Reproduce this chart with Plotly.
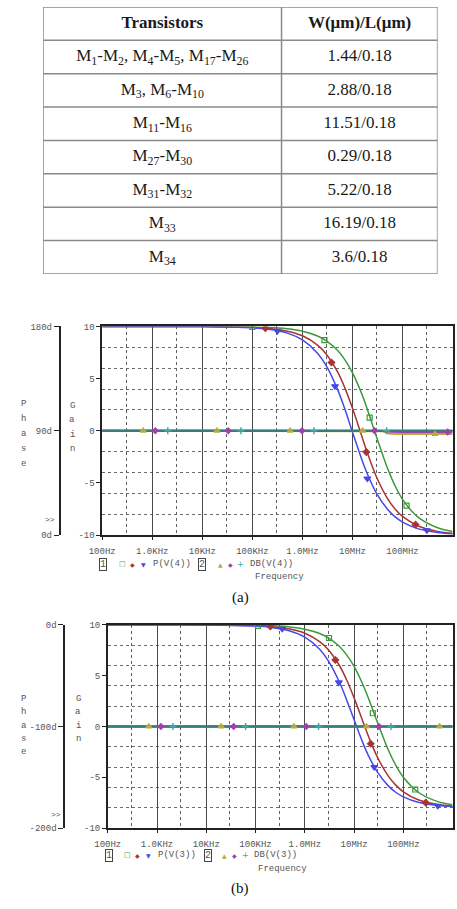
import plotly.graph_objects as go

W, H = 457, 909

# ---------------- data ----------------
TABLE_HEADER = ["<b>Transistors</b>", "<b>W(μm)/L(μm)</b>"]
TRANSISTORS = [
    "M<sub>1</sub>-M<sub>2</sub>, M<sub>4</sub>-M<sub>5</sub>, M<sub>17</sub>-M<sub>26</sub>",
    "M<sub>3</sub>, M<sub>6</sub>-M<sub>10</sub>",
    "M<sub>11</sub>-M<sub>16</sub>",
    "M<sub>27</sub>-M<sub>30</sub>",
    "M<sub>31</sub>-M<sub>32</sub>",
    "M<sub>33</sub>",
    "M<sub>34</sub>",
]
WL_RATIO = ["1.44/0.18", "2.88/0.18", "11.51/0.18", "0.29/0.18", "5.22/0.18", "16.19/0.18", "3.6/0.18"]

FREQ = [1e2, 1e3, 1e4, 1e5, 2e5, 5e5, 1e6, 2e6, 3e6, 5e6, 7e6, 1e7, 1.5e7, 2e7, 3e7, 5e7, 7e7, 1e8, 2e8, 5e8, 1e9]

# plot (a): phase P(V(4)) in degrees
PH_A_GREEN = [180, 180, 180, 179.6, 179.2, 177.9, 175.8, 171.7, 167.5, 159.4, 151.4, 140.0, 122.8, 107.9, 85.0, 57.6, 42.9, 30.8, 15.7, 6.3, 3.1]
PH_A_RED = [180, 180, 179.9, 179.2, 178.4, 175.9, 171.9, 163.9, 156.0, 141.0, 127.2, 109.3, 86.5, 70.4, 50.3, 31.5, 22.8, 16.1, 8.1, 3.2, 1.6]
PH_A_BLUE = [180, 180, 179.9, 178.8, 177.7, 174.2, 168.3, 156.9, 146.0, 125.9, 108.9, 88.8, 66.3, 52.2, 36.2, 22.2, 15.9, 11.2, 5.6, 2.2, 1.1]

# plot (b): phase P(V(3)) in degrees
PH_B_GREEN = [0, 0, 0, -0.4, -0.9, -2.1, -4.3, -8.5, -12.8, -21.1, -29.3, -40.9, -58.5, -73.5, -96.4, -123.6, -138.1, -150.0, -164.7, -173.9, -176.9]
PH_B_RED = [0, 0, -0.1, -0.8, -1.7, -4.2, -8.3, -16.5, -24.5, -39.8, -53.8, -71.9, -94.8, -110.8, -130.6, -149.1, -157.7, -164.3, -172.1, -176.8, -178.4]
PH_B_BLUE = [0, 0, -0.1, -1.2, -2.4, -6.1, -12.1, -24.0, -35.4, -56.0, -73.4, -93.5, -115.9, -129.7, -145.2, -158.7, -164.7, -169.3, -174.6, -177.8, -178.9]

# gain DB(V(4)) / DB(V(3))
GAIN_F_A = [1e2, 1e6, 1e7, 3e7, 4e7, 5.5e7, 1e8, 1e9]
GAIN_A_OLIVE = [0, 0, 0, 0, -0.05, -0.28, -0.3, -0.3]
GAIN_A_PURPLE = [0, 0, 0, 0, -0.02, -0.1, -0.12, -0.12]
GAIN_A_TEAL = [0, 0, 0, 0, 0, 0, 0, 0]
GAIN_F_B = [1e2, 1e9]
GAIN_B_OLIVE = [0, 0]
GAIN_B_PURPLE = [0, 0]
GAIN_B_TEAL = [0, 0]

# trace markers (frequency, value)
MK_A_GREEN = ([1e5, 2.75e6, 2.2e7, 1.2e8], [179.5, 168.2, 101.3, 25.5])
MK_A_RED = ([1.82e5, 3.8e6, 1.89e7, 1.82e8], [178.5, 148.9, 71.6, 9.0])
MK_A_BLUE = ([3.16e5, 4.47e6, 1.98e7, 3.06e8], [176.1, 128.4, 48.8, 4.1])
MK_A_OLIVE = ([660, 1.95e4, 5.66e5, 1.59e7, 4.45e8], [0, 0, 0, 0, -0.3])
MK_A_PURPLE = ([1.15e3, 3.3e4, 9.8e5, 2.75e7, 7.95e8], [0, 0, 0, 0, -0.12])
MK_A_TEAL = ([2.04e3, 5.9e4, 1.7e6, 4.8e7], [0, 0, 0, 0])

MK_B_GREEN = ([1.12e5, 3.1e6, 2.4e7, 1.74e8], [-1, -13, -87, -162])
MK_B_RED = ([2.0e5, 4.17e6, 2.18e7, 2.85e8], [-1.6, -34.6, -117, -175])
MK_B_BLUE = ([3.47e5, 4.9e6, 2.57e7, 5.0e8], [-4, -56.7, -140, -178])
MK_B_OLIVE = ([680, 2.0e4, 6.0e5, 1.78e7, 5.43e8], [0, 0, 0, 0, 0])
MK_B_PURPLE = ([1.2e3, 3.6e4, 1.07e6, 3.2e7], [0, 0, 0, 0])
MK_B_TEAL = ([2.1e3, 6.3e4, 1.9e6, 5.6e7], [0, 0, 0, 0])

X_TICKVALS = [1e2, 1e3, 1e4, 1e5, 1e6, 1e7, 1e8]
X_TICKTEXT = ["100Hz", "1.0KHz", "10KHz", "100KHz", "1.0MHz", "10MHz", "100MHz"]
X_MINOR = [3e2, 3e3, 3e4, 3e5, 3e6, 3e7, 3e8]
GAIN_TICKS = [-10, -5, 0, 5, 10]
GAIN_TICKTEXT = ["-10", "-5", "0", "5", "10"]
PH_A_TICKS = [0, 90, 180]
PH_A_TICKTEXT = ["0d", "90d", "180d"]
PH_B_TICKS = [-200, -100, 0]
PH_B_TICKTEXT = ["-200d", "-100d", "0d"]

NAME_A = ("P(V(4))", "DB(V(4))")
NAME_B = ("P(V(3))", "DB(V(3))")

# ---------------- style ----------------
GREEN, RED, BLUE = "#3a9a3a", "#a83434", "#4848e8"
OLIVE, PURPLE, TEAL = "#b4ac3c", "#a040b0", "#3a7c7e"
MONO = "Liberation Mono"
SERIF = "Liberation Serif"
TXT = "#555555"

# table layout (widths in table units, rows in row units)
TBL_COL_W = [246, 161]


def fx(p):
    return p / W


def fy(p):
    return 1 - p / H


fig = go.Figure()

# ---------------- table (drawn on a hidden axis pair) ----------------
n_rows = len(TRANSISTORS) + 1
tbl_w = sum(TBL_COL_W)
col_c = [TBL_COL_W[0] / 2, TBL_COL_W[0] + TBL_COL_W[1] / 2]
row_c = [i + 0.5 for i in range(n_rows)]
col0 = [TABLE_HEADER[0]] + TRANSISTORS
col1 = [TABLE_HEADER[1]] + WL_RATIO
for cx, vals in zip(col_c, (col0, col1)):
    fig.add_trace(go.Scatter(x=[cx] * n_rows, y=row_c, text=vals, mode="text",
                             textposition="middle center",
                             textfont=dict(family=SERIF, size=17, color="#1a1a1a"),
                             xaxis="x3", yaxis="y5", showlegend=False, hoverinfo="skip"))
shapes = []
for r in range(n_rows + 1):
    shapes.append(dict(type="line", xref="x3", yref="y5", x0=0, x1=tbl_w, y0=r, y1=r,
                       line=dict(color="#8a8a8a", width=1.5)))
for cxe in (0, TBL_COL_W[0], tbl_w):
    shapes.append(dict(type="line", xref="x3", yref="y5", x0=cxe, x1=cxe, y0=0, y1=n_rows,
                       line=dict(color="#8a8a8a", width=1.5)))


def add_panel(xa, ya_ph, ya_g, fr, ph_g, ph_r, ph_b, gf, g_o, g_p, g_t, mks):
    xk = "x" if xa == 1 else "x%d" % xa
    yp = "y" if ya_ph == 1 else "y%d" % ya_ph
    yg = "y%d" % ya_g
    for vals, col in ((ph_g, GREEN), (ph_r, RED), (ph_b, BLUE)):
        fig.add_trace(go.Scatter(x=fr, y=vals, mode="lines", line=dict(color=col, width=1.5, shape="spline"),
                                 xaxis=xk, yaxis=yp, showlegend=False, hoverinfo="skip"))
    (mg, mr, mb, mo, mp, mt) = mks
    for (mx, my), col, sym, sz in ((mg, GREEN, "square-open", 5), (mr, RED, "diamond", 5), (mb, BLUE, "triangle-down", 6)):
        fig.add_trace(go.Scatter(x=mx, y=my, mode="markers",
                                 marker=dict(color=col, symbol=sym, size=sz, line=dict(color=col, width=1.2)),
                                 xaxis=xk, yaxis=yp, showlegend=False, hoverinfo="skip"))
    for vals, col, w in ((g_o, OLIVE, 2), (g_p, PURPLE, 2), (g_t, TEAL, 2.5)):
        fig.add_trace(go.Scatter(x=gf, y=vals, mode="lines", line=dict(color=col, width=w),
                                 xaxis=xk, yaxis=yg, showlegend=False, hoverinfo="skip"))
    for (mx, my), col, sym, sz in ((mo, OLIVE, "triangle-up", 5), (mp, PURPLE, "diamond", 4), (mt, "#40a8a8", "cross-thin-open", 5)):
        fig.add_trace(go.Scatter(x=mx, y=my, mode="markers",
                                 marker=dict(color=col, symbol=sym, size=sz, line=dict(color=col, width=1.5)),
                                 xaxis=xk, yaxis=yg, showlegend=False, hoverinfo="skip"))


add_panel(1, 1, 2, FREQ, PH_A_GREEN, PH_A_RED, PH_A_BLUE, GAIN_F_A, GAIN_A_OLIVE, GAIN_A_PURPLE, GAIN_A_TEAL,
          (MK_A_GREEN, MK_A_RED, MK_A_BLUE, MK_A_OLIVE, MK_A_PURPLE, MK_A_TEAL))
add_panel(2, 3, 4, FREQ, PH_B_GREEN, PH_B_RED, PH_B_BLUE, GAIN_F_B, GAIN_B_OLIVE, GAIN_B_PURPLE, GAIN_B_TEAL,
          (MK_B_GREEN, MK_B_RED, MK_B_BLUE, MK_B_OLIVE, MK_B_PURPLE, MK_B_TEAL))

tickfont = dict(family=MONO, size=9, color=TXT)


def xaxis_cfg(x0, x1, anchor):
    return dict(type="log", range=[2, 9], domain=[fx(x0), fx(x1)], anchor=anchor,
                tickvals=X_TICKVALS, ticktext=X_TICKTEXT, ticks="outside", ticklen=3,
                tickcolor="#222", tickfont=tickfont, ticklabelstandoff=3,
                showline=True, linecolor="#222", linewidth=1.5, mirror=True,
                showgrid=True, gridcolor="#4a4a4a", gridwidth=1.3, zeroline=False,
                minor=dict(tickvals=X_MINOR, showgrid=True, gridcolor="#606060",
                           griddash="dot", gridwidth=1, ticks=""),
                fixedrange=True)


def phase_cfg(y0, y1, pos, rng, tv, tt):
    return dict(domain=[fy(y1), fy(y0)], anchor="free", position=fx(pos), range=rng,
                tickvals=tv, ticktext=tt, ticks="outside", ticklen=5, tickcolor="#222",
                tickfont=tickfont, showline=True, linecolor="#222", linewidth=1.5,
                showgrid=False, zeroline=False, fixedrange=True)


def gain_cfg(over, anchor):
    return dict(overlaying=over, anchor=anchor, side="left", range=[-10, 10],
                tickvals=GAIN_TICKS, ticktext=GAIN_TICKTEXT, ticks="outside", ticklen=4,
                tickcolor="#222", tickfont=tickfont, showline=True, linecolor="#222",
                linewidth=1.5, mirror=True, showgrid=False, zeroline=False,
                minor=dict(tick0=0, dtick=2, showgrid=True, gridcolor="#6a6a6a",
                           griddash="dot", gridwidth=1, ticks=""),
                fixedrange=True)


fig.update_layout(
    width=W, height=H, margin=dict(l=0, r=0, t=0, b=0),
    paper_bgcolor="white", plot_bgcolor="white", showlegend=False,
    xaxis=xaxis_cfg(91, 452.5, "y2"),
    yaxis=phase_cfg(326, 537, 47, [0, 180], PH_A_TICKS, PH_A_TICKTEXT),
    yaxis2=gain_cfg("y", "x"),
    xaxis2=xaxis_cfg(96.7, 452.5, "y4"),
    yaxis3=phase_cfg(627.7, 833.3, 51.7, [-200, 0], PH_B_TICKS, PH_B_TICKTEXT),
    yaxis4=gain_cfg("y3", "x2"),
    xaxis3=dict(domain=[fx(30), fx(437)], range=[0, tbl_w], visible=False, anchor="y5", fixedrange=True),
    yaxis5=dict(domain=[fy(273), fy(3)], range=[n_rows, 0], visible=False, anchor="x3", fixedrange=True),
    shapes=shapes,
)

ann = []


def txt(x, y, s, size=9, color=TXT, family=MONO, xanchor="center", **kw):
    ann.append(dict(x=fx(x), y=fy(y), xref="paper", yref="paper", text=s, showarrow=False,
                    xanchor=xanchor, yanchor="middle", font=dict(family=family, size=size, color=color), **kw))


def panel_text(phase_x, ph_y0, ph_step, gain_x, g_y0, g_step, arrows_xy, leg, leg_y, names, freq_xy, cap, cap_y):
    for i, ch in enumerate("Phase"):
        txt(phase_x, ph_y0 + i * ph_step, ch)
    for i, ch in enumerate("Gain"):
        txt(gain_x, g_y0 + i * g_step, ch)
    txt(arrows_xy[0], arrows_xy[1], ">>", size=8)
    b1, sg, sr, sb, n1, b2, so, sp, st, n2 = leg
    txt(b1, leg_y, "1", size=10, bordercolor="#444", borderwidth=1, borderpad=0)
    txt(sg, leg_y, "□", size=7, color=GREEN, family="DejaVu Sans")
    txt(sr, leg_y, "◆", size=6, color=RED, family="DejaVu Sans")
    txt(sb, leg_y, "▼", size=6, color=BLUE, family="DejaVu Sans")
    txt(n1, leg_y, names[0], xanchor="left")
    txt(b2, leg_y, "2", size=10, bordercolor="#444", borderwidth=1, borderpad=0)
    txt(so, leg_y, "▲", size=6, color=OLIVE, family="DejaVu Sans")
    txt(sp, leg_y, "◆", size=6, color=PURPLE, family="DejaVu Sans")
    txt(st, leg_y, "+", size=8, color="#40a8a8", family="DejaVu Sans")
    txt(n2, leg_y, names[1], xanchor="left")
    txt(freq_xy[0], freq_xy[1], "Frequency", xanchor="left")
    txt(233.5, cap_y, cap, size=15, color="#111", family=SERIF)


panel_text(10, 404, 15.2, 60, 406, 14.7, (37, 521.5),
           (92, 111.7, 122.3, 133.3, 141, 194, 213.3, 223.3, 234, 241.5), 566.7, NAME_A, (247, 579.3), "(a)", 600)
panel_text(10, 702.7, 13.5, 66.3, 702.7, 13.5, (43, 820),
           (98.3, 116.7, 127.7, 139, 146, 200, 216.7, 227.7, 239, 246), 860.7, NAME_B, (249.5, 874.7), "(b)", 894)

fig.update_layout(annotations=ann)
fig.write_html("out.html")
